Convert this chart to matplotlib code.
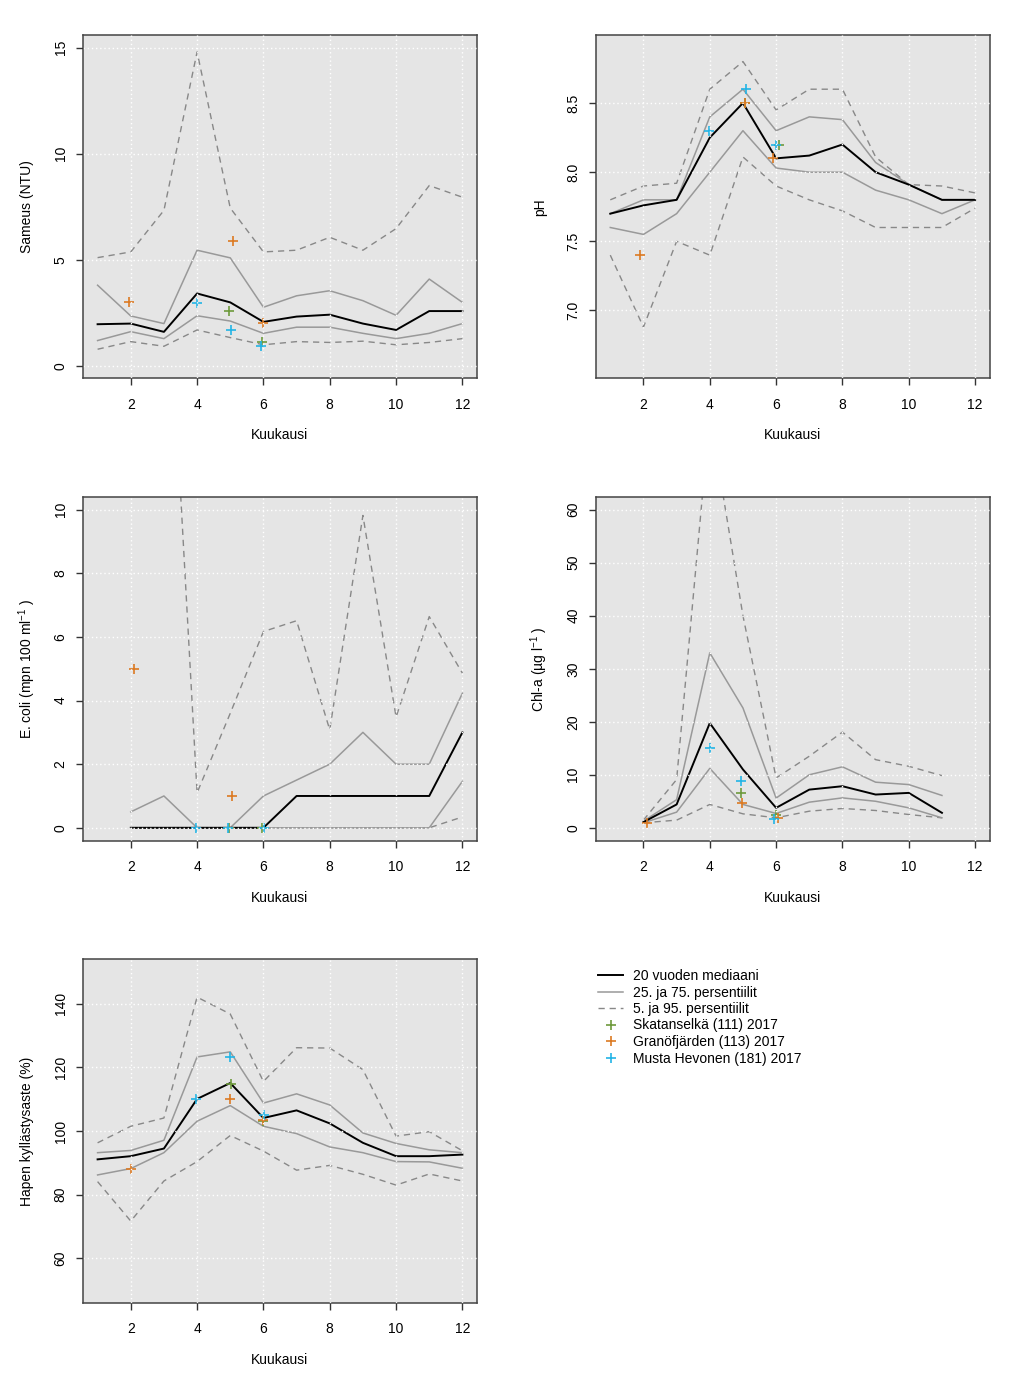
import matplotlib.pyplot as plt
from matplotlib.lines import Line2D

plt.rcParams['font.family'] = ['Liberation Sans', 'DejaVu Sans']
plt.rcParams['mathtext.fontset'] = 'custom'
plt.rcParams['mathtext.rm'] = 'Liberation Sans'
plt.rcParams['mathtext.default'] = 'regular'
plt.rcParams['font.size'] = 10

# kuukaudet
kk = [1, 2, 3, 4, 5, 6, 7, 8, 9, 10, 11, 12]
kk_ecoli = [2, 3, 4, 5, 6, 7, 8, 9, 10, 11, 12]
kk_chla = [2, 3, 4, 5, 6, 7, 8, 9, 10, 11]

# Sameus (NTU)
sam_med = [1.96, 1.99, 1.6, 3.41, 2.99, 2.07, 2.32, 2.41, 1.99, 1.69, 2.58, 2.58]
sam_p75 = [3.8, 2.35, 1.99, 5.45, 5.09, 2.76, 3.3, 3.54, 3.07, 2.38, 4.09, 2.99]
sam_p25 = [1.19, 1.61, 1.28, 2.36, 2.11, 1.53, 1.82, 1.82, 1.53, 1.28, 1.53, 1.99]
sam_p95 = [5.1, 5.37, 7.33, 14.8, 7.44, 5.37, 5.45, 6.06, 5.45, 6.47, 8.5, 7.95]
sam_p5 = [0.78, 1.14, 0.92, 1.69, 1.33, 0.99, 1.14, 1.1, 1.16, 0.99, 1.1, 1.28]
sam_pts = {'green': ([4.95, 5.95], [2.58, 1.1]),
           'orange': ([1.95, 5.08, 6.0], [2.99, 5.87, 2.0]),
           'cyan': ([4.0, 5.03, 5.92], [2.97, 1.69, 0.91])}

# pH
ph_med = [7.7, 7.76, 7.8, 8.25, 8.5, 8.1, 8.12, 8.2, 8.0, 7.91, 7.8, 7.8]
ph_p75 = [7.7, 7.8, 7.8, 8.4, 8.6, 8.3, 8.4, 8.38, 8.07, 7.91, 7.8, 7.8]
ph_p25 = [7.6, 7.55, 7.7, 8.0, 8.3, 8.03, 8.0, 8.0, 7.87, 7.8, 7.7, 7.8]
ph_p95 = [7.8, 7.9, 7.92, 8.6, 8.8, 8.45, 8.6, 8.6, 8.11, 7.91, 7.9, 7.85]
ph_p5 = [7.4, 6.88, 7.5, 7.4, 8.11, 7.9, 7.8, 7.72, 7.6, 7.6, 7.6, 7.74]
ph_pts = {'green': ([5.05, 6.08], [8.5, 8.2]),
          'orange': ([1.9, 5.06, 5.9], [7.4, 8.5, 8.1]),
          'cyan': ([3.98, 5.1, 6.0], [8.3, 8.6, 8.2])}

# E. coli
ec_med = [0, 0, 0, 0, 0, 1, 1, 1, 1, 1, 3.0]
ec_p75 = [0.5, 1.0, 0, 0, 1.0, 1.5, 2.0, 3.0, 2.0, 2.0, 4.23]
ec_p25 = [0, 0, 0, 0, 0, 0, 0, 0, 0, 0, 1.46]
ec_p95 = [15.0, 20.0, 1.1, 3.6, 6.17, 6.51, 3.08, 9.82, 3.48, 6.64, 4.86]
ec_p5 = [0, 0, 0, 0, 0, 0, 0, 0, 0, 0, 0.34]
ec_pts = {'green': ([4.97, 5.97], [0, 0]),
          'orange': ([2.1, 5.06], [5.0, 1.0]),
          'cyan': ([3.98, 4.93, 6.03], [0, 0, 0])}

# Chl-a
chl_med = [1.07, 4.4, 19.75, 11.0, 3.76, 7.2, 7.84, 6.27, 6.58, 2.82]
chl_p75 = [1.25, 5.3, 33.0, 22.6, 5.6, 10.0, 11.5, 8.6, 8.15, 6.1]
chl_p25 = [0.94, 2.95, 11.2, 4.4, 2.7, 4.83, 5.64, 5.0, 3.76, 1.88]
chl_p95 = [1.44, 9.1, 78.0, 40.0, 9.4, 13.5, 18.05, 12.85, 11.6, 9.84]
chl_p5 = [0.94, 1.44, 4.4, 2.63, 1.88, 3.13, 3.64, 3.26, 2.5, 1.88]
chl_pts = {'green': ([4.95, 6.0], [6.6, 2.5]),
           'orange': ([2.1, 4.97, 6.05], [0.94, 4.6, 1.9]),
           'cyan': ([4.0, 4.95, 5.95], [15.0, 8.8, 1.57])}

# Hapen kyllästysaste (%)
o2_med = [91.1, 92.1, 94.5, 110.1, 115.1, 104.1, 106.5, 102.4, 96.3, 92.1, 92.1, 92.6]
o2_p75 = [93.2, 93.9, 97.1, 123.3, 124.9, 108.8, 111.7, 108.2, 99.4, 96.1, 94.1, 93.2]
o2_p25 = [86.2, 88.2, 93.2, 103.1, 108.0, 101.5, 99.2, 95.0, 93.2, 90.4, 90.3, 88.3]
o2_p95 = [96.3, 101.5, 104.1, 142.1, 136.8, 115.6, 126.2, 126.1, 119.3, 98.4, 99.8, 93.8]
o2_p5 = [84.1, 71.7, 84.3, 90.4, 98.6, 93.7, 87.7, 89.2, 86.4, 83.0, 86.5, 84.3]
o2_pts = {'green': ([5.03, 6.0], [114.9, 103.1]),
          'orange': ([2.02, 5.0, 6.0], [88.1, 110.1, 103.6]),
          'cyan': ([3.96, 5.0, 6.02], [110.2, 123.2, 105.2])}

varit = {'green': '#6E9A3C', 'orange': '#DC7A22', 'cyan': '#22B4E6'}
nimet = {'green': 'Skatanselkä (111) 2017',
         'orange': 'Granöfjärden (113) 2017',
         'cyan': 'Musta Hevonen (181) 2017'}

harmaa = '#999999'
katko = '#888888'
viiva = (4.5, 3.5)

W, H = 1024, 1387
fig = plt.figure(figsize=(W / 100, H / 100), dpi=100)

def paneeli(left_px, top_px, x, med, p25, p75, p5, p95, pts, ylim, yticks, ylabel, yfmt):
    ax = fig.add_axes([left_px / W, 1 - (top_px + 343.5) / H, 394 / W, 343.5 / H])
    ax.set_facecolor('#E5E5E5')
    # harmaat persentiiliviivat
    ax.plot(x, p95, color=katko, lw=1.0, dashes=viiva)
    ax.plot(x, p5, color=katko, lw=1.0, dashes=viiva)
    ax.plot(x, p75, color=harmaa, lw=1.1)
    ax.plot(x, p25, color=harmaa, lw=1.1)
    ax.plot(x, med, color='black', lw=1.4)
    for k in ['green', 'orange', 'cyan']:
        ax.plot(pts[k][0], pts[k][1], '+', color=varit[k], ms=6.5, mew=1.2, linestyle='none')
    # R:n tapaan 4% lisätila
    d = (ylim[1] - ylim[0]) * 0.04
    ax.set_ylim(ylim[0] - d, ylim[1] + d)
    ax.set_xlim(1 - 0.44, 12 + 0.44)
    ax.set_xticks([2, 4, 6, 8, 10, 12])
    ax.set_yticks(yticks)
    ax.set_yticklabels([yfmt.format(v) for v in yticks], rotation=90, va='center')
    ax.grid(True, color='white', lw=1.0, linestyle=(0, (1, 2)))
    ax.set_axisbelow(False)
    ax.tick_params(length=5, width=1.0, color='#333333', pad=9, labelsize=10)
    ax.tick_params(axis='y', pad=6)
    for s in ax.spines.values():
        s.set_color('#444444')
        s.set_linewidth(1.1)
    ax.set_xlabel('Kuukausi', fontsize=10, va='center')
    ax.xaxis.set_label_coords(0.5, -57 / 343.5)
    ax.set_ylabel(ylabel, fontsize=10, va='center')
    ax.yaxis.set_label_coords(-56 / 394, 0.5)
    return ax

paneeli(83, 35, kk, sam_med, sam_p25, sam_p75, sam_p5, sam_p95, sam_pts,
        (0, 15), [0, 5, 10, 15], 'Sameus (NTU)', '{:g}')
paneeli(595.7, 35, kk, ph_med, ph_p25, ph_p75, ph_p5, ph_p95, ph_pts,
        (6.6, 8.9), [7.0, 7.5, 8.0, 8.5], 'pH', '{:.1f}')
paneeli(83, 497, kk_ecoli, ec_med, ec_p25, ec_p75, ec_p5, ec_p95, ec_pts,
        (0, 10), [0, 2, 4, 6, 8, 10], r'E. coli (mpn 100 ml$^{-1}$ )', '{:g}')
paneeli(595.7, 497, kk_chla, chl_med, chl_p25, chl_p75, chl_p5, chl_p95, chl_pts,
        (0, 60), [0, 10, 20, 30, 40, 50, 60], r'Chl-a (µg l$^{-1}$ )', '{:g}')
paneeli(83, 959.3, kk, o2_med, o2_p25, o2_p75, o2_p5, o2_p95, o2_pts,
        (50, 150), [60, 80, 100, 120, 140], 'Hapen kyllästysaste (%)', '{:g}')

# selite
kahvat = [Line2D([], [], color='black', lw=1.4),
          Line2D([], [], color=harmaa, lw=1.1),
          Line2D([], [], color=katko, lw=1.0, dashes=viiva)]
tekstit = ['20 vuoden mediaani', '25. ja 75. persentiilit', '5. ja 95. persentiilit']
for k in ['green', 'orange', 'cyan']:
    kahvat.append(Line2D([], [], marker='+', color=varit[k], ms=6.5, mew=1.2, linestyle='none'))
    tekstit.append(nimet[k])
fig.legend(kahvat, tekstit, loc='upper left', bbox_to_anchor=(598 / W, 1 - 969 / H),
           frameon=False, borderpad=0, borderaxespad=0, handlelength=1.8,
           handletextpad=0.75, labelspacing=0.18, fontsize=10)

plt.savefig('out.png', dpi=100)
